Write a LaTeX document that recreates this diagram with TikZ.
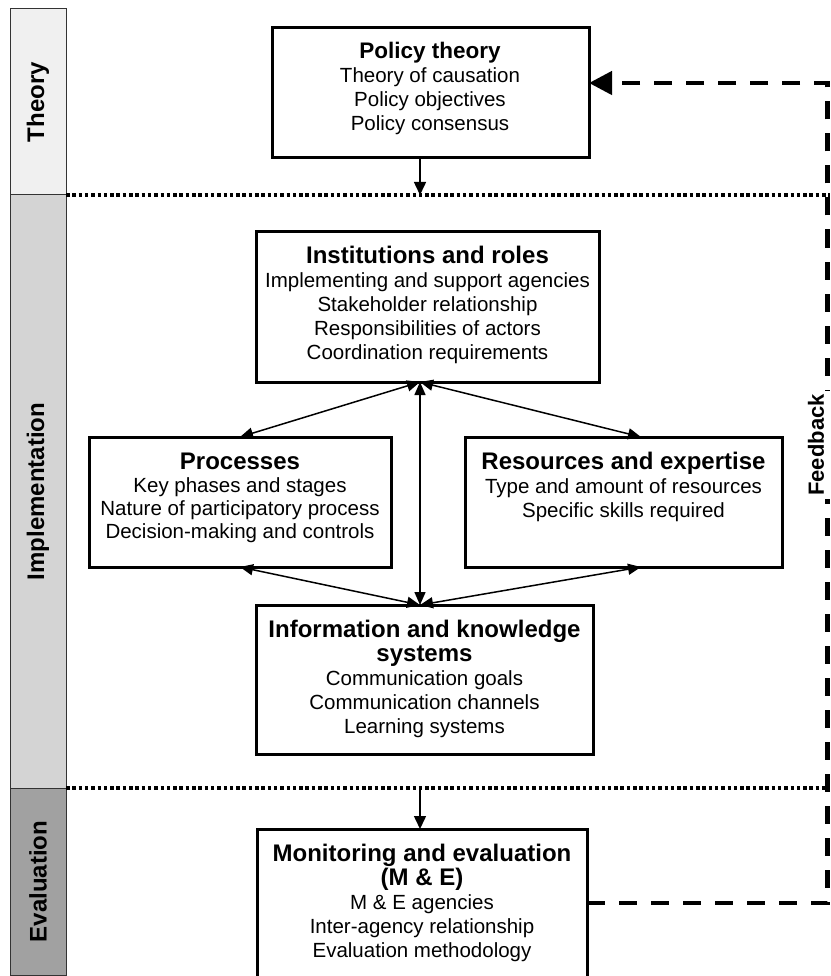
\documentclass[tikz,border=0pt]{standalone}
\usepackage{fontspec}
\setmainfont{Liberation Sans}
\usetikzlibrary{arrows.meta}
\newcommand{\boxtitle}[1]{{\fontsize{24}{24}\selectfont\bfseries #1}}
\begin{document}
\begin{tikzpicture}[x=1pt,y=-1pt,
  band/.style={draw=black!80, line width=1pt, anchor=north west, inner sep=0pt, outer sep=0pt},
  bandlabel/.style={rotate=90, inner sep=0pt, font=\fontsize{24}{24}\selectfont\bfseries},
  box/.style={draw, line width=3pt, fill=white, anchor=north west, inner sep=0pt, outer sep=0pt},
  boxtext/.style={anchor=north, align=center, inner sep=0pt, font=\fontsize{20.5}{24}\selectfont},
  link/.style={line width=1.5pt, {Triangle[length=13pt,width=11pt]}-{Triangle[length=13pt,width=11pt]}},
  drop/.style={line width=1.5pt, -{Triangle[length=13pt,width=12pt]}},
  divider/.style={line width=3.5pt, dash pattern=on 3.5pt off 2.8pt},
  feedback/.style={line width=4.5pt, dash pattern=on 18pt off 14pt}
]
\path[use as bounding box] (0,0) rectangle (830,976);

% stage bands on the left
\node[band, fill=black!6,  minimum width=56pt, minimum height=186pt] (theory) at (10,9) {};
\node[band, fill=black!17, minimum width=56pt, minimum height=593pt] (impl) at (10,195) {};
\node[band, fill=black!37, minimum width=56pt, minimum height=187pt] (eval) at (10,788) {};
\node[bandlabel] at (theory.center) {Theory};
\node[bandlabel] at (impl.center) {Implementation};
\node[bandlabel] at (eval.center) {Evaluation};

% dotted stage dividers
\coordinate (div1) at (830,195);
\coordinate (div2) at (830,788);
\draw[divider] (theory.south east) -- (div1);
\draw[divider] (impl.south east) -- (div2);

% vertical axis used by the central connectors
\coordinate (axis) at (420,0);
\coordinate (resaxis) at (641,0);

% boxes
\node[box, minimum width=317pt, minimum height=130pt] (pol) at (272,28) {};
\node[boxtext] at (430,42) {{\fontsize{22.5}{24}\selectfont\bfseries Policy theory}\\Theory of causation\\Policy objectives\\Policy consensus};

\node[box, minimum width=343pt, minimum height=150pt] (inst) at (256,232) {};
\node[boxtext] at (inst.north |- 0,246) {\boxtitle{Institutions and roles}\\Implementing and support agencies\\Stakeholder relationship\\Responsibilities of actors\\Coordination requirements};

\node[box, minimum width=302pt, minimum height=130pt] (proc) at (89,437) {};
\node[boxtext, font=\fontsize{20.5}{23}\selectfont] at (proc.north |- 0,453) {\boxtitle{Processes}\\Key phases and stages\\Nature of participatory process\\Decision-making and controls};

\node[box, minimum width=317pt, minimum height=130pt] (res) at (465,437) {};
\node[boxtext] at (res.north |- 0,452) {\boxtitle{Resources and expertise}\\Type and amount of resources\\Specific skills required};

\node[box, minimum width=337pt, minimum height=149pt] (info) at (256,605) {};
\node[boxtext] at (info.north |- 0,620) {\boxtitle{Information and knowledge}\\\boxtitle{systems}\\Communication goals\\Communication channels\\Learning systems};

\node[box, minimum width=330pt, minimum height=150pt] (mon) at (257,829) {};
\node[boxtext] at (mon.north |- 0,844) {\boxtitle{Monitoring and evaluation}\\\boxtitle{(M \& E)}\\M \& E agencies\\Inter-agency relationship\\Evaluation methodology};

% connectors
\draw[drop] (pol.south -| axis) -- (div1 -| axis);
\draw[drop] (div2 -| axis) -- (mon.north -| axis);
\draw[link] (inst.south -| axis) -- (proc.north);
\draw[link] (inst.south -| axis) -- (res.north -| resaxis);
\draw[link] (inst.south -| axis) -- (info.north -| axis);
\draw[link] (proc.south) -- (info.north -| axis);
\draw[link] (res.south -| resaxis) -- (info.north -| axis);

% feedback loop
\coordinate (fbtop) at (827.5,83);
\coordinate (fbbot) at (827.5,903);
\draw[feedback, -{Triangle[length=23pt,width=23pt]}] (mon.east |- fbbot) -- (fbbot) -- (fbtop) -- (pol.east |- fbtop);
\node[fill=white, rotate=90, inner xsep=3pt, inner ysep=6pt, font=\fontsize{22}{22}\selectfont\bfseries] (fblabel) at (816,445) {Feedback};
\end{tikzpicture}
\end{document}
